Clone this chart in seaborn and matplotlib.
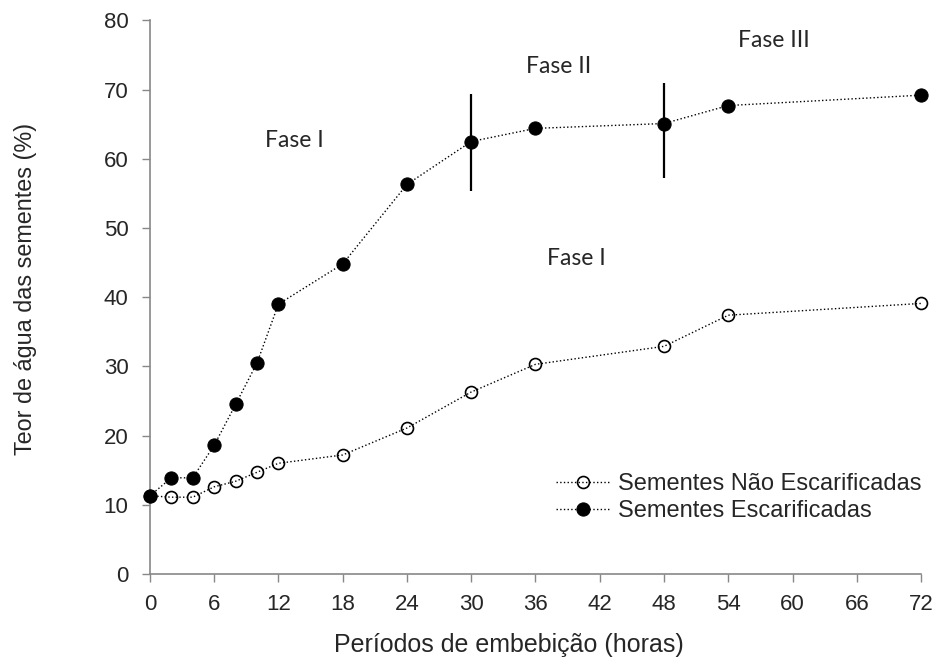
import pandas as pd
import numpy as np
import matplotlib.pyplot as plt
import seaborn as sns

# Data
horas = [0, 2, 4, 6, 8, 10, 12, 18, 24, 30, 36, 48, 54, 72]
nao_escarificadas = [11.3, 11.1, 11.1, 12.6, 13.4, 14.7, 16.0, 17.2, 21.1, 26.3, 30.3, 32.9, 37.4, 39.1]
escarificadas = [11.3, 13.9, 13.9, 18.6, 24.5, 30.5, 39.0, 44.8, 56.3, 62.5, 64.4, 65.1, 67.7, 69.2]

# Phase separators (x, y bottom, y top) and phase labels
fase_x = [30, 48]
fase_ymin = [55.3, 57.2]
fase_ymax = [69.3, 71.0]
rotulos = ['Fase I', 'Fase II', 'Fase III', 'Fase I']
rotulos_x = [13.45, 38.2, 58.3, 39.8]
rotulos_y = [61.7, 72.35, 76.1, 44.6]

df = pd.DataFrame({'horas': horas,
                   'nao': nao_escarificadas,
                   'esc': escarificadas})

sns.set_style('white')
plt.rcParams['font.family'] = ['Liberation Sans', 'DejaVu Sans']

fig, ax = plt.subplots(figsize=(9.37, 6.59), dpi=100)
fig.subplots_adjust(left=0.160, right=0.983, bottom=0.129, top=0.969)

sns.lineplot(data=df, x='horas', y='nao', ax=ax, color='black', linestyle=':',
             linewidth=1.0, marker='o', markersize=8.6, markerfacecolor='none',
             markeredgecolor='black', markeredgewidth=1.2,
             label='Sementes Não Escarificadas', zorder=3, clip_on=False)
sns.lineplot(data=df, x='horas', y='esc', ax=ax, color='black', linestyle=':',
             linewidth=1.0, marker='o', markersize=9.5, markerfacecolor='black',
             markeredgecolor='black', label='Sementes Escarificadas', zorder=3,
             clip_on=False)

ax.vlines(fase_x, fase_ymin, fase_ymax, color='black', linewidth=1.6, zorder=2)

for txt, tx, ty in zip(rotulos, rotulos_x, rotulos_y):
    ax.text(tx, ty, txt, fontsize=16.5, ha='center', va='baseline',
            family=['Lato', 'DejaVu Sans'])

ax.set_xlim(0, 72)
ax.set_ylim(0, 80)
ax.set_xticks(range(0, 73, 6))
ax.set_yticks(range(0, 81, 10))
ax.tick_params(axis='both', labelsize=16, direction='out', length=5.5,
               color='#888888', width=1, bottom=True, left=True)
ax.tick_params(axis='x', pad=9)
ax.tick_params(axis='y', pad=10)
ax.set_xlabel('Períodos de embebição (horas)', fontsize=18)
ax.set_ylabel('Teor de água das sementes (%)', fontsize=16.8)
ax.xaxis.set_label_coords(0.466, -0.107)
ax.yaxis.set_label_coords(-0.146, 0.515)

for side in ['top', 'right']:
    ax.spines[side].set_visible(False)
for side in ['left', 'bottom']:
    ax.spines[side].set_color('#888888')
    ax.spines[side].set_linewidth(1.2)

ax.legend(loc='upper left', bbox_to_anchor=(0.5934, 0.2815),
          bbox_transform=fig.transFigure, frameon=False, borderpad=0,
          borderaxespad=0, fontsize=17, handlelength=2.3, handletextpad=0.34,
          labelspacing=0.2)

plt.savefig('out.png', dpi=100)
